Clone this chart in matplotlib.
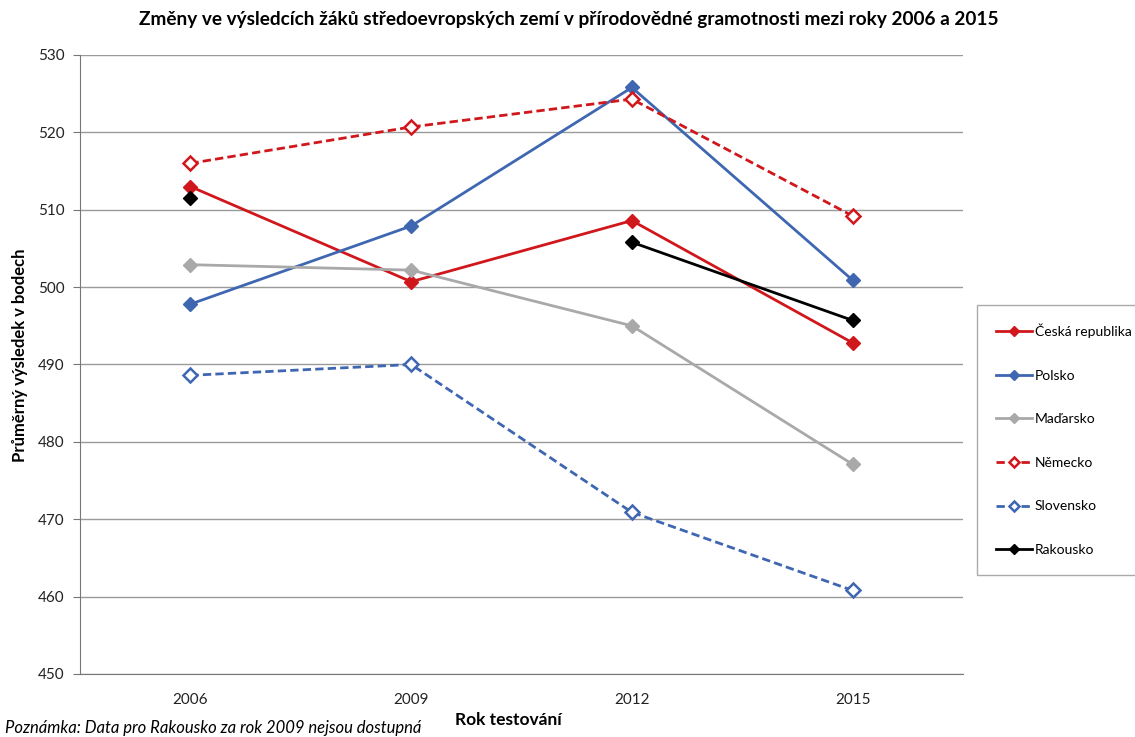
import numpy as np
import matplotlib
matplotlib.use("Agg")
import matplotlib.pyplot as plt

plt.rcParams['font.family'] = ['Lato', 'DejaVu Sans']

roky = ['2006', '2009', '2012', '2015']
cesko = [513, 500.7, 508.6, 492.8]
polsko = [497.8, 507.9, 525.8, 500.9]
madarsko = [502.9, 502.2, 495.0, 477.1]
nemecko = [516.0, 520.7, 524.3, 509.2]
slovensko = [488.6, 490.0, 470.9, 460.8]
rakousko = [511.5, np.nan, 505.8, 495.7]

cervena = '#D0171C'
modra = '#3F67B1'
seda = '#A9A9A9'

fig = plt.figure(figsize=(11.35, 7.37), dpi=100)
ax = fig.add_axes([80/1135, 1-674/737, (963-80)/1135, (674-55)/737])

x = np.arange(len(roky))
ax.plot(x, cesko, color=cervena, lw=2, marker='D', ms=7, label='Česká republika')
ax.plot(x, polsko, color=modra, lw=2, marker='D', ms=7, label='Polsko')
ax.plot(x, madarsko, color=seda, lw=2, marker='D', ms=7, label='Maďarsko')
ax.plot(x, nemecko, color=cervena, lw=2, ls=(0, (3, 1.5)), marker='D', ms=7,
        mfc='white', mec=cervena, mew=1.8, label='Německo')
ax.plot(x, slovensko, color=modra, lw=2, ls=(0, (3, 1.5)), marker='D', ms=7,
        mfc='white', mec=modra, mew=1.8, label='Slovensko')
ax.plot(x, rakousko, color='black', lw=2, marker='D', ms=7, label='Rakousko')

ax.set_xlim(-0.5, 3.5)
ax.set_ylim(450, 530)
ax.set_yticks(range(450, 531, 10))
ax.set_xticks(x)
ax.set_xticklabels(roky)
ax.tick_params(axis='both', labelsize=11, colors='#222222')
ax.tick_params(axis='x', length=0, pad=14)
ax.tick_params(axis='y', length=5, pad=6, color='#777777')
ax.grid(axis='y', color='#9a9a9a', lw=1)
ax.set_axisbelow(True)
for s in ['top', 'right']:
    ax.spines[s].set_visible(False)
ax.spines['left'].set_color('#777777')
ax.spines['bottom'].set_color('#777777')

fig.text(569/1135, 1-20/737, 'Změny ve výsledcích žáků středoevropských zemí v přírodovědné gramotnosti mezi roky 2006 a 2015',
         ha='center', va='center', fontsize=13.7, fontweight='bold')
fig.text(20/1135, 1-355/737, 'Průměrný výsledek v bodech', rotation=90, ha='center', va='center',
         fontsize=12, fontweight='bold')
fig.text(508/1135, 1-720/737, 'Rok testování', ha='center', va='center', fontsize=12.5, fontweight='bold')
fig.text(5/1135, 1-728/737, 'Poznámka: Data pro Rakousko za rok 2009 nejsou dostupná', ha='left', va='center',
         fontsize=12, style='italic')

leg = fig.legend(loc='upper left', bbox_to_anchor=(977/1135, 1-305/737), fontsize=10,
                 labelspacing=2.27, handlelength=2.6, handletextpad=0.2, borderpad=1.35,
                 borderaxespad=0, markerscale=0.8,
                 fancybox=False, edgecolor='#aaaaaa', framealpha=1)
leg.get_frame().set_linewidth(1)

fig.savefig('out.png', dpi=100)
